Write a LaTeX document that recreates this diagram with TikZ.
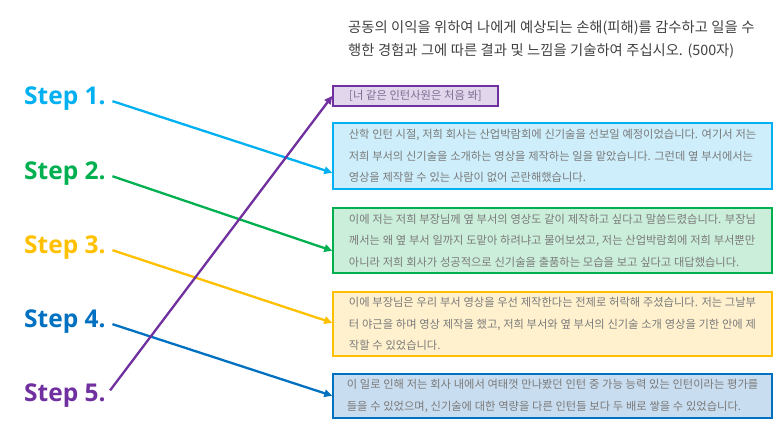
\documentclass[tikz,border=0pt]{standalone}
\usepackage{fontspec}
\setmainfont{Noto Sans CJK KR}
\newfontfamily\boxfont{Noto Sans CJK KR}[WordSpace=1.3]
\newfontfamily\titlefont{Noto Sans CJK KR}[WordSpace=1.1]
\newfontfamily\stepfont{Open Sans}
\usetikzlibrary{arrows.meta,calc}
\definecolor{cA}{HTML}{00B0F0}
\definecolor{cB}{HTML}{00B050}
\definecolor{cC}{HTML}{FFC000}
\definecolor{cD}{HTML}{0070C0}
\definecolor{cE}{HTML}{7030A0}
\definecolor{fA}{HTML}{CDEEFA}
\definecolor{fB}{HTML}{CBEEDA}
\definecolor{fC}{HTML}{FFF1CE}
\definecolor{fD}{HTML}{C9DDF0}
\definecolor{fE}{HTML}{E2D6EC}
\definecolor{txtgray}{HTML}{7A7A7A}
\definecolor{titlegray}{HTML}{404040}
\definecolor{ptxt}{HTML}{7E6D92}
\tikzset{
  steplbl/.style={font=\stepfont\bfseries\fontsize{24.5}{28}\selectfont, inner xsep=0pt, anchor=west},
  essay/.style={draw, line width=1.5pt, align=left, minimum width=439pt, inner sep=0pt,
    font=\boxfont\fontsize{11.25}{21.5}\selectfont, text=txtgray},
  conn/.style={line width=2.3pt, shorten <=7pt, -{Triangle[length=8pt,width=7.5pt]}},
}
\begin{document}
\begin{tikzpicture}[x=1pt,y=-1pt]
\useasboundingbox (0,0) rectangle (773,435);
% title
\node[anchor=west, align=left, inner sep=0pt, text=titlegray,
  font=\titlefont\fontsize{14.3}{23}\selectfont] (q) at (348,39.5)
  {공동의 이익을 위하여 나에게 예상되는 손해(피해)를 감수하고 일을 수\\
   행한 경험과 그에 따른 결과 및 느낌을 기술하여 주십시오. (500자)};
% step labels
\node[steplbl, text=cA] (s1) at (24,99) {Step 1.};
\node[steplbl, text=cB] (s2) at (24,174) {Step 2.};
\node[steplbl, text=cC] (s3) at (24,248) {Step 3.};
\node[steplbl, text=cD] (s4) at (24,322) {Step 4.};
\node[steplbl, text=cE] (s5) at (24,396) {Step 5.};
% boxes
\node[essay, draw=cE, fill=fE, minimum width=165pt, minimum height=20pt, text=ptxt] (p) at (415.5,96)
  {[너 같은 인턴사원은 처음 봐]};
\node[essay, draw=cA, fill=fA, minimum height=66pt] (b1) at (552.5,156)
  {산학 인턴 시절, 저희 회사는 산업박람회에 신기술을 선보일 예정이었습니다. 여기서 저는\\
   저희 부서의 신기술을 소개하는 영상을 제작하는 일을 맡았습니다. 그런데 옆 부서에서는\\
   영상을 제작할 수 있는 사람이 없어 곤란해했습니다.};
\node[essay, draw=cB, fill=fB, minimum height=65pt] (b2) at (552.5,240.5)
  {이에 저는 저희 부장님께 옆 부서의 영상도 같이 제작하고 싶다고 말씀드렸습니다. 부장님\\
   께서는 왜 옆 부서 일까지 도맡아 하려냐고 물어보셨고, 저는 산업박람회에 저희 부서뿐만\\
   아니라 저희 회사가 성공적으로 신기술을 출품하는 모습을 보고 싶다고 대답했습니다.};
\node[essay, draw=cC, fill=fC, minimum height=64pt] (b3) at (552.5,324)
  {이에 부장님은 우리 부서 영상을 우선 제작한다는 전제로 허락해 주셨습니다. 저는 그날부\\
   터 야근을 하며 영상 제작을 했고, 저희 부서와 옆 부서의 신기술 소개 영상을 기한 안에 제\\
   작할 수 있었습니다.};
\node[essay, draw=cD, fill=fD, minimum height=44pt] (b4) at (552.5,396)
  {이 일로 인해 저는 회사 내에서 여태껏 만나봤던 인턴 중 가능 능력 있는 인턴이라는 평가를\\
   들을 수 있었으며, 신기술에 대한 역량을 다른 인턴들 보다 두 배로 쌓을 수 있었습니다.};
% connectors
\draw[conn, draw=cA] (s1.east) -- ($(b1.south west)+(0,-17)$);
\draw[conn, draw=cB] (s2.east) -- ($(b2.south west)+(0,-23)$);
\draw[conn, draw=cC] (s3.east) -- ($(b3.south west)+(0,-34)$);
\draw[conn, draw=cD] (s4.east) -- ($(b4.south west)+(0,-23)$);
\draw[conn, draw=cE] (s5.east) -- (p.west);
\end{tikzpicture}
\end{document}
